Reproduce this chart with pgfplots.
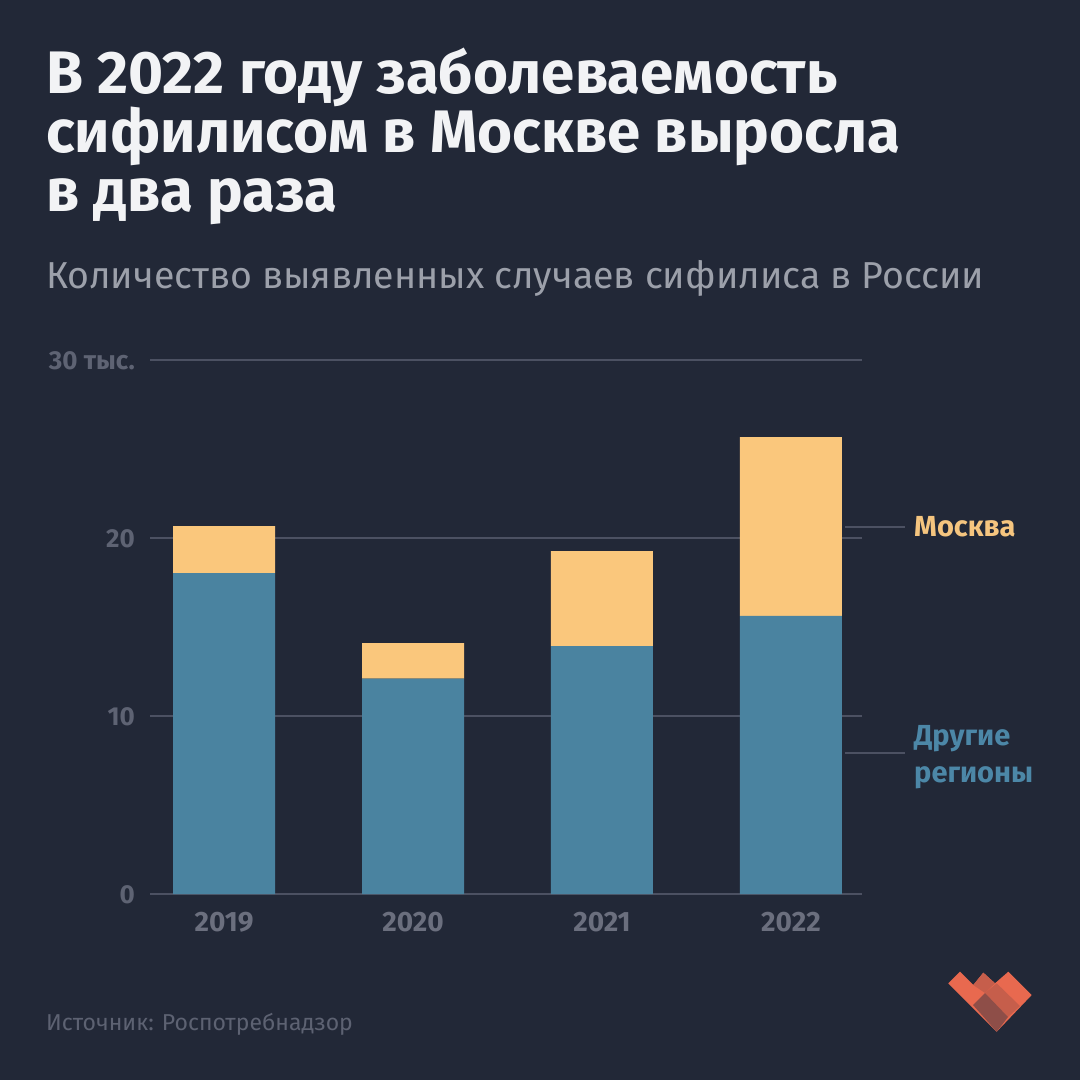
\documentclass[border=0pt]{standalone}
\usepackage{pgfplots}
\pgfplotsset{compat=1.18}
\usepackage{fontspec}
\setmainfont{Fira Sans}
\definecolor{bgc}{HTML}{222837}
\definecolor{titlec}{HTML}{F2F3F5}
\definecolor{subc}{HTML}{9CA0AA}
\definecolor{gridc}{HTML}{4C5162}
\definecolor{tickc}{HTML}{5E6373}
\definecolor{xtickc}{HTML}{6B6F7E}
\definecolor{orc}{HTML}{FAC77C}
\definecolor{bluec}{HTML}{4A83A0}
\definecolor{moscc}{HTML}{F5C57F}
\definecolor{bluelab}{HTML}{4C87A7}
\definecolor{srcc}{HTML}{5D6272}
\definecolor{logoa}{HTML}{E8694F}
\definecolor{logob}{HTML}{C65E4B}
\definecolor{logoc}{HTML}{8E4E48}
\begin{document}
\begin{tikzpicture}[x=1pt,y=1pt]
\fill[bgc] (0,0) rectangle (1080,-1080);
\begin{scope}[every node/.style={anchor=base west, inner sep=0pt}]
\node[text=titlec, font=\fontsize{60}{64}\selectfont\bfseries] at (46,-93) {В 2022 году заболеваемость};
\node[text=titlec, font=\fontsize{60}{64}\selectfont\bfseries] at (46,-152) {сифилисом в Москве выросла};
\node[text=titlec, font=\fontsize{60}{64}\selectfont\bfseries] at (46,-211) {в два раза};
\node[text=subc, font=\fontsize{37.5}{40}\selectfont] at (46,-288) {Количество выявленных случаев сифилиса в России};
\node[text=srcc, font=\fontsize{23}{26}\selectfont] at (46,-1030) {Источник: Роспотребнадзор};
\node[text=moscc, font=\fontsize{29}{32}\selectfont\bfseries] at (914,-536) {Москва};
\node[text=bluelab, font=\fontsize{29}{32}\selectfont\bfseries] at (914,-745) {Другие};
\node[text=bluelab, font=\fontsize{29}{32}\selectfont\bfseries] at (914,-782) {регионы};
\end{scope}
\begin{axis}[
  at={(150pt,-894pt)}, anchor=south west,
  scale only axis, width=712pt, height=534pt,
  xmin=-0.392, xmax=3.376, ymin=0, ymax=30,
  ybar stacked, bar width=102pt,
  axis line style={draw=none},
  major tick length=0pt,
  ymajorgrids, grid style={color=gridc, line width=2pt},
  ytick={0,10,20,30},
  yticklabels={0,10,20,{30 тыс.}},
  xtick={0,1,2,3},
  xticklabels={2019,2020,2021,2022},
  yticklabel style={anchor=base east, inner sep=0pt, xshift=-15pt, yshift=-9.5pt, text=tickc, font=\fontsize{26}{28}\selectfont\bfseries},
  xticklabel style={anchor=base, inner sep=0pt, yshift=-37pt, text=xtickc, font=\fontsize{28}{30}\selectfont\bfseries},
  /pgf/number format/assume math mode=true,
]
\addplot[fill=bluec, draw=none] coordinates {(0,18.03) (1,12.1) (2,13.93) (3,15.62)};
\addplot[fill=orc, draw=none] coordinates {(0,2.64) (1,2.0) (2,5.34) (3,10.05)};
\end{axis}
\draw[gridc, line width=2pt] (845,-527) -- (905,-527);
\draw[gridc, line width=2pt] (845,-753) -- (905,-753);
% logo
\fill[logoa] (948.3,-983.3) -- (960,-971.7) -- (973.3,-985) -- (983.3,-972.7) -- (995,-983.3) -- (1008.3,-971.7) -- (1031.7,-995) -- (996.7,-1031.7) -- cycle;
\fill[logob] (973.3,-985) -- (983.3,-972.7) -- (995,-983.3) -- (985,-993) -- cycle;
\fill[logob] (985,-993) -- (996.7,-983.3) -- (1020,-1006) -- (1008,-1017) -- cycle;
\fill[logoc] (973,-1005) -- (985,-993) -- (1008,-1017) -- (996.7,-1031.7) -- cycle;
\end{tikzpicture}
\end{document}
